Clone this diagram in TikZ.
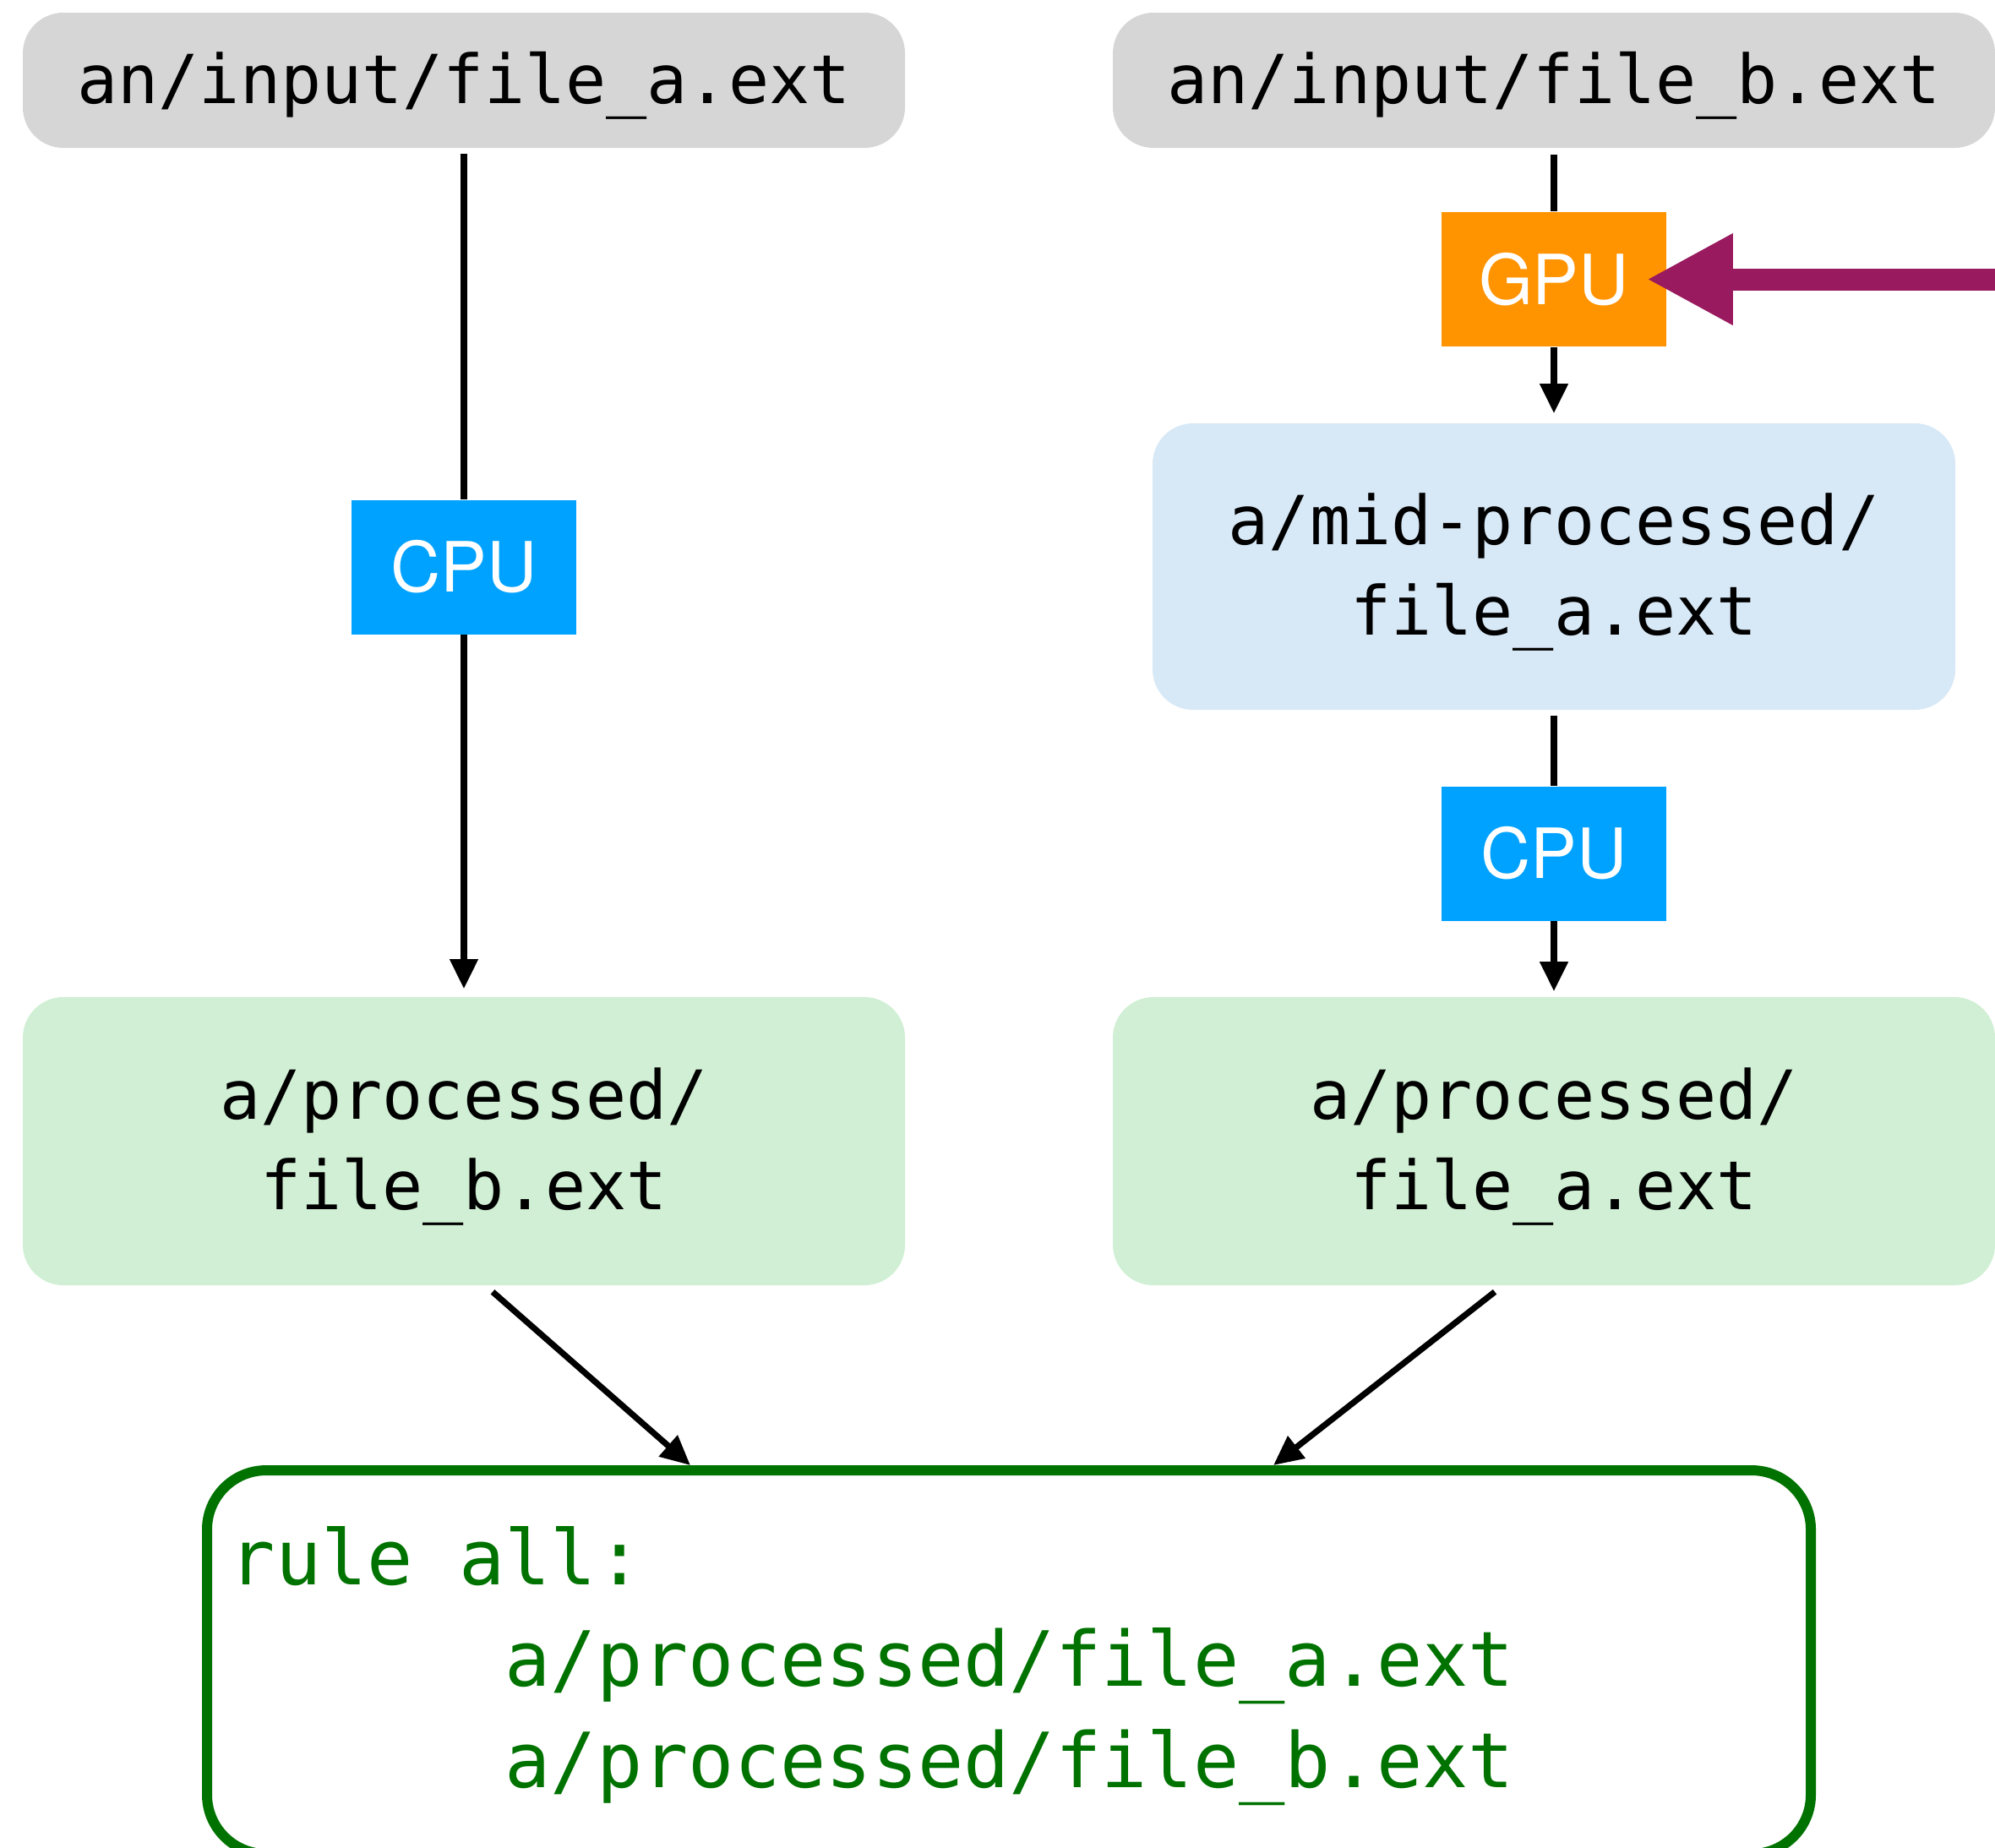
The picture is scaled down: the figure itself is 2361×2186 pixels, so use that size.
\documentclass[tikz,border=0pt]{standalone}
\usepackage{fontspec}
\newfontfamily\codefont{DejaVu Sans Mono}
\newfontfamily\labelfont{TeX Gyre Heros}
\usetikzlibrary{arrows.meta}

\definecolor{inputgray}{HTML}{D6D6D6}
\definecolor{cpublue}{HTML}{00A2FF}
\definecolor{gpuorange}{HTML}{FF9300}
\definecolor{midblue}{HTML}{D7E8F6}
\definecolor{procgreen}{HTML}{D0EFD4}
\definecolor{rulegreen}{HTML}{007200}
\definecolor{feedpurple}{HTML}{991A5E}

% struts that fix where the file names sit inside their boxes
\newcommand\hiStrut{\rule{0pt}{19pt}}
\newcommand\loStrut{\rule[-5.5pt]{0pt}{5.5pt}}

\begin{document}
\begin{tikzpicture}[x=0.25pt,y=-0.25pt,
  filebox/.style={rectangle, rounded corners=12pt, inner sep=0pt, align=center,
    minimum width=261pt,
    font=\codefont\fontsize{20pt}{26.75pt}\selectfont},
  unitbox/.style={rectangle, inner sep=0pt, minimum width=66.5pt, minimum height=39.75pt,
    text=white, font=\labelfont\fontsize{20.5pt}{24pt}\selectfont,
    text height=14.75pt, text depth=0pt},
  link/.style={line width=1.8pt},
  flow/.style={line width=1.8pt, -{Triangle[length=8.75pt,width=8pt]}},
]
\useasboundingbox (0,0) rectangle (2361,2186);
\clip (0,0) rectangle (2361,2186);

% input files
\node[filebox, fill=inputgray, minimum height=40pt] (inA) at (549,95)
  {\hiStrut an/input/file\_a.ext\loStrut};
\node[filebox, fill=inputgray, minimum height=40pt] (inB) at (1839,95)
  {\hiStrut an/input/file\_b.ext\loStrut};

% processing steps
\node[unitbox, fill=cpublue] (cpuA) at (549,671) {CPU};
\node[unitbox, fill=gpuorange] (gpu) at (1839,330.5) {GPU};
\node[filebox, fill=midblue, minimum width=237.5pt, minimum height=84.75pt] (mid) at (1839,670.5)
  {\hiStrut a/mid-processed/\\file\_a.ext\loStrut};
\node[unitbox, fill=cpublue] (cpuB) at (1839,1010) {CPU};

% outputs
\node[filebox, fill=procgreen, minimum height=85.25pt] (procB) at (549,1350.5)
  {\hiStrut a/processed/\\file\_b.ext\loStrut};
\node[filebox, fill=procgreen, minimum height=85.25pt] (procA) at (1839,1350.5)
  {\hiStrut a/processed/\\file\_a.ext\loStrut};

% target rule
\node[draw=rulegreen, line width=3pt, rounded corners=17.5pt, inner sep=0pt,
  minimum width=474.5pt, minimum height=113.5pt] (rule) at (1194,1967) {};
\node[anchor=north west, inner sep=0pt, align=left, text=rulegreen,
  font=\codefont\fontsize{22.55pt}{30pt}\selectfont] (ruletext) at (271,1795)
  {\rule{0pt}{20pt}rule all:\\\hphantom{000000}a/processed/file\_a.ext\\\hphantom{000000}a/processed/file\_b.ext};

% connectors
\draw[link, shorten <=1.5pt] (inA.south) -- (cpuA.north);
\draw[flow, shorten >=2.25pt] (cpuA.south) -- (procB.north);
\draw[link, shorten <=1.75pt] (inB.south) -- (gpu.north);
\draw[flow, shorten >=2.75pt] (gpu.south) -- (mid.north);
\draw[link, shorten <=1.5pt] (mid.south) -- (cpuB.north);
\draw[flow, shorten >=1.5pt] (cpuB.south) -- (procA.north);
\draw[flow] ([xshift=8.5pt,yshift=-1.75pt]procB.south) -- ([xshift=-94.25pt]rule.north);
\draw[flow] ([xshift=-17.5pt,yshift=-1.75pt]procA.south) -- ([xshift=78.25pt]rule.north);

% incoming feed into the GPU step
\coordinate (feed) at (2420,330.5);
\draw[line width=6.5pt, draw=feedpurple, -{Triangle[length=25.5pt,width=25.25pt]}]
  (feed) -- ([xshift=-6pt]gpu.east);
\end{tikzpicture}
\end{document}
